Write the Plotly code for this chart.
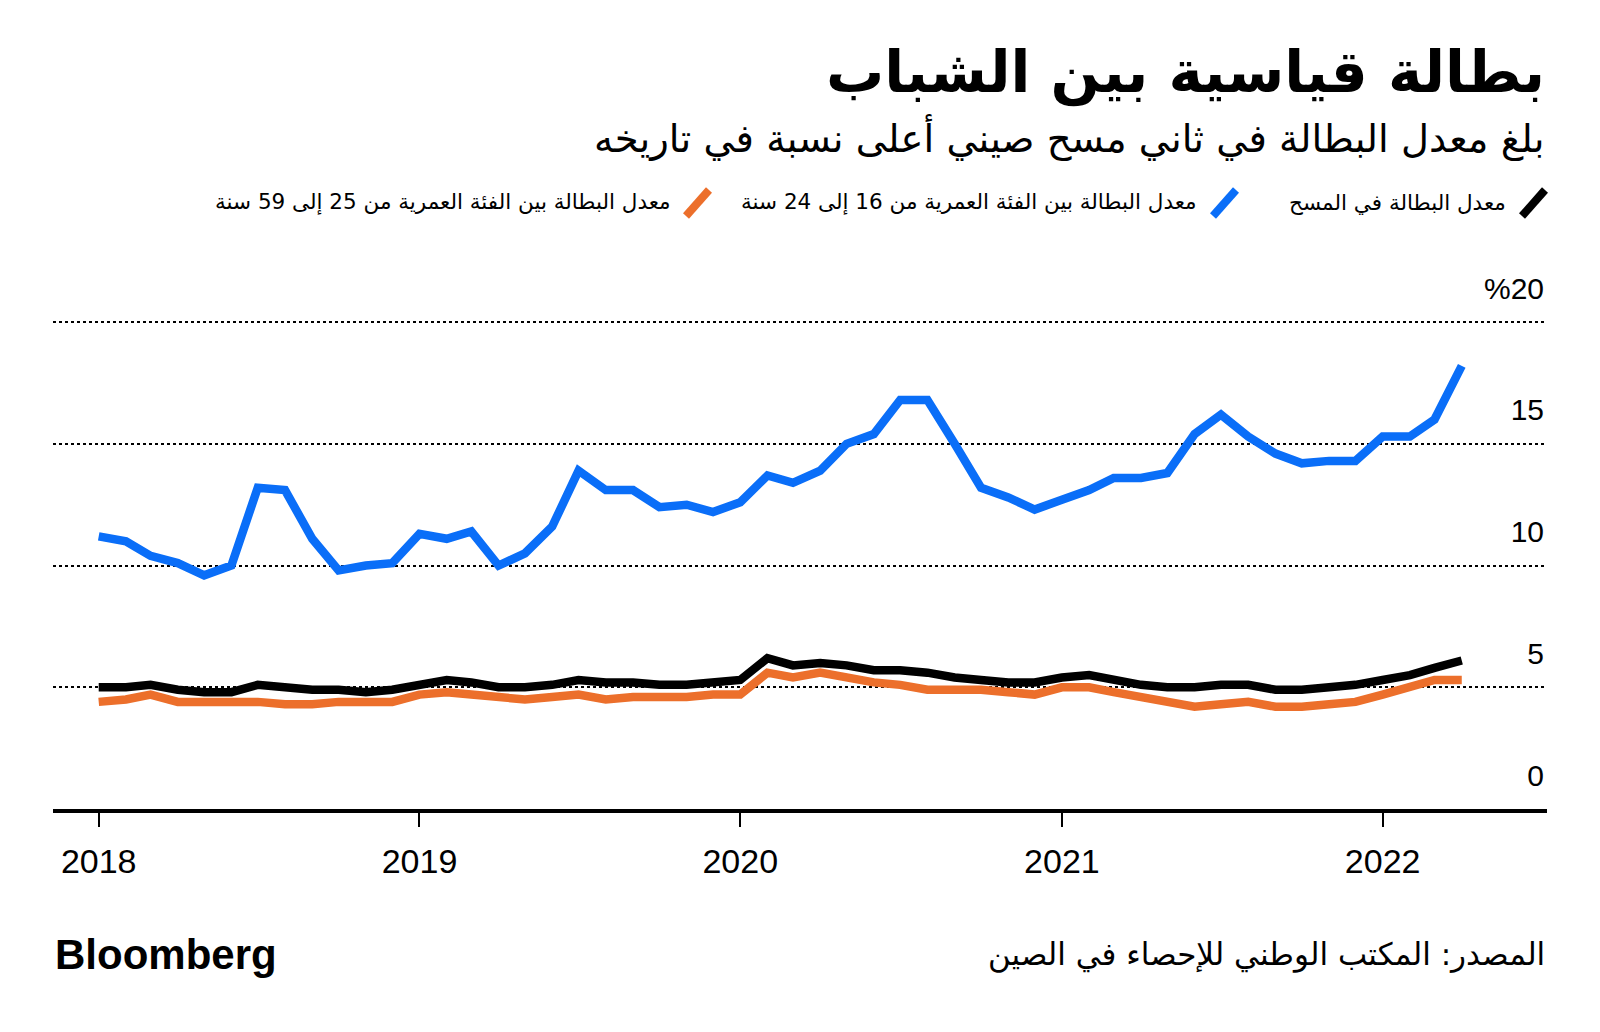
import pandas as pd
import plotly.graph_objects as go

# ---- data ----
months = pd.date_range("2018-01-01", "2022-04-01", freq="MS")

overall = [5.0, 5.0, 5.1, 4.9, 4.8, 4.8, 5.1, 5.0, 4.9, 4.9, 4.8, 4.9,
           5.1, 5.3, 5.2, 5.0, 5.0, 5.1, 5.3, 5.2, 5.2, 5.1, 5.1, 5.2,
           5.3, 6.2, 5.9, 6.0, 5.9, 5.7, 5.7, 5.6, 5.4, 5.3, 5.2, 5.2,
           5.4, 5.5, 5.3, 5.1, 5.0, 5.0, 5.1, 5.1, 4.9, 4.9, 5.0, 5.1,
           5.3, 5.5, 5.8, 6.1]

youth_16_24 = [11.2, 11.0, 10.4, 10.1, 9.6, 10.0, 13.2, 13.1, 11.1, 9.8, 10.0, 10.1,
               11.3, 11.1, 11.4, 10.0, 10.5, 11.6, 13.9, 13.1, 13.1, 12.4, 12.5, 12.2,
               12.6, 13.7, 13.4, 13.9, 15.0, 15.4, 16.8, 16.8, 15.0, 13.2, 12.8, 12.3,
               12.7, 13.1, 13.6, 13.6, 13.8, 15.4, 16.2, 15.3, 14.6, 14.2, 14.3, 14.3,
               15.3, 15.3, 16.0, 18.2]

adult_25_59 = [4.4, 4.5, 4.7, 4.4, 4.4, 4.4, 4.4, 4.3, 4.3, 4.4, 4.4, 4.4,
               4.7, 4.8, 4.7, 4.6, 4.5, 4.6, 4.7, 4.5, 4.6, 4.6, 4.6, 4.7,
               4.7, 5.6, 5.4, 5.6, 5.4, 5.2, 5.1, 4.9, 4.9, 4.9, 4.8, 4.7,
               5.0, 5.0, 4.8, 4.6, 4.4, 4.2, 4.3, 4.4, 4.2, 4.2, 4.3, 4.4,
               4.7, 5.0, 5.3, 5.3]

year_ticks = ["2018-01-01", "2019-01-01", "2020-01-01", "2021-01-01", "2022-01-01"]
year_labels = ["2018", "2019", "2020", "2021", "2022"]
y_ticks = [0, 5, 10, 15, 20]
y_labels = ["0", "5", "10", "15", "%20"]

title = "بطالة قياسية بين الشباب"
subtitle = "بلغ معدل البطالة في ثاني مسح صيني أعلى نسبة في تاريخه"
legend_names = ["معدل البطالة في المسح",
                "معدل البطالة بين الفئة العمرية من 16 إلى 24 سنة",
                "معدل البطالة بين الفئة العمرية من 25 إلى 59 سنة"]
source = "المصدر: المكتب الوطني للإحصاء في الصين"

BLACK = "#000000"
BLUE = "#0a6ef8"
ORANGE = "#ec6f2b"

# ---- layout geometry (px) ----
W, H = 1600, 1032
ML, MR, MT, MB = 53, 53, 271, 223
PW = W - ML - MR
PH = H - MT - MB


def px(x):
    return (x - ML) / PW


def py(y):
    return (H - MB - y) / PH


ARABIC = "DejaVu Sans"
LATIN = "Liberation Sans"
LW = 8.5

fig = go.Figure()
fig.add_trace(go.Scatter(x=months, y=adult_25_59, mode="lines",
                         line=dict(color=ORANGE, width=LW), name=legend_names[2]))
fig.add_trace(go.Scatter(x=months, y=youth_16_24, mode="lines",
                         line=dict(color=BLUE, width=LW), name=legend_names[1]))
fig.add_trace(go.Scatter(x=months, y=overall, mode="lines",
                         line=dict(color=BLACK, width=LW), name=legend_names[0]))

ann = []
ann.append(dict(text=title, x=px(1547), y=py(72), xanchor="right", yanchor="middle",
                font=dict(family=ARABIC, size=58, color="black", weight="bold")))
ann.append(dict(text=subtitle, x=px(1547), y=py(138), xanchor="right", yanchor="middle",
                font=dict(family=ARABIC, size=38.5, color="black")))
# legend labels
for name, xr in zip(legend_names, [1508, 1199, 673]):
    ann.append(dict(text=name, x=px(xr), y=py(202), xanchor="right", yanchor="middle",
                    font=dict(family=ARABIC, size=21.5, color="black")))
ann.append(dict(text="Bloomberg", x=px(53), y=py(954), xanchor="left", yanchor="middle",
                font=dict(family=LATIN, size=42, color="black", weight="bold")))
ann.append(dict(text=source, x=px(1547), y=py(955), xanchor="right", yanchor="middle",
                font=dict(family=ARABIC, size=31, color="black")))
for a in ann:
    a.update(xref="paper", yref="paper", showarrow=False)

shapes = []
for col, (x0, x1) in zip([BLACK, BLUE, ORANGE], [(1522, 1545), (1213, 1236), (686, 709)]):
    shapes.append(dict(type="line", xref="paper", yref="paper",
                       x0=px(x0), y0=py(216), x1=px(x1), y1=py(190),
                       line=dict(color=col, width=8)))

fig.update_layout(
    width=W, height=H,
    margin=dict(l=ML, r=MR, t=MT, b=MB),
    paper_bgcolor="white", plot_bgcolor="white",
    showlegend=False,
    annotations=ann, shapes=shapes,
    xaxis=dict(
        type="date",
        range=["2017-11-10", "2022-07-07"],
        tickvals=year_ticks, ticktext=year_labels,
        ticks="outside", ticklen=14, tickwidth=2, tickcolor="black",
        ticklabelstandoff=5,
        showline=True, linewidth=4, linecolor="black",
        showgrid=False, zeroline=False,
        tickfont=dict(family=LATIN, size=34, color="black"),
    ),
    yaxis=dict(
        range=[0, 22.1],
        side="right",
        tickvals=y_ticks, ticktext=y_labels,
        ticklabelposition="inside", ticklabelshift=-34, ticklabelstandoff=0,
        ticks="",
        showgrid=True, gridcolor="black", gridwidth=1.5, griddash="dot",
        zeroline=False, showline=False,
        tickfont=dict(family=LATIN, size=30, color="black"),
    ),
)

fig.write_html("out.html", config={"displayModeBar": False},
               post_script="document.body.style.margin='0';")
